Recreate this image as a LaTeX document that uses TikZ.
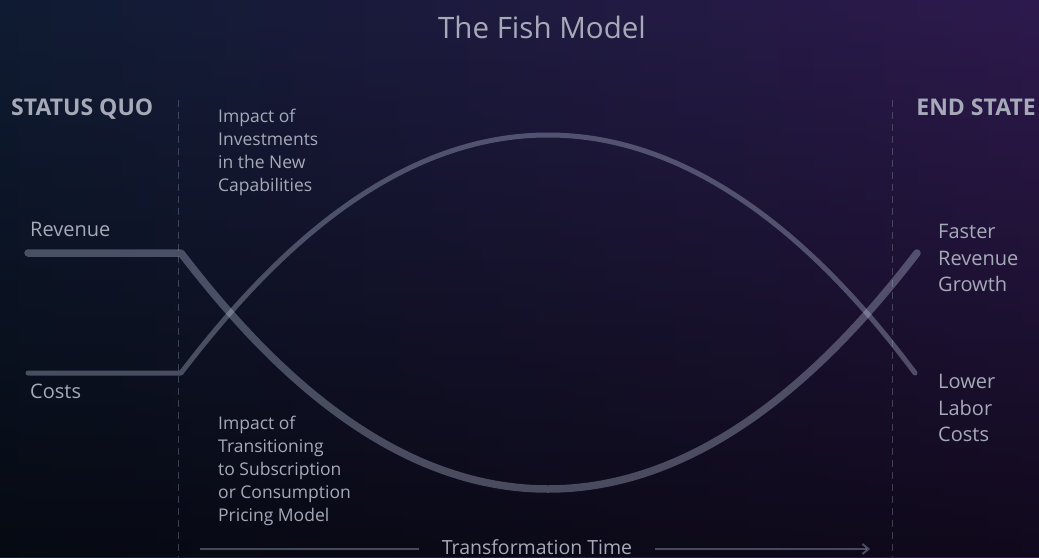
\documentclass[tikz,border=0pt]{standalone}
\usepackage{fontspec}
\setmainfont{Open Sans}
\usetikzlibrary{fadings,arrows.meta}

\definecolor{bgL}{RGB}{16,28,51}
\definecolor{bgR}{RGB}{46,26,78}
\definecolor{ink}{RGB}{166,170,184}
\definecolor{strokec}{RGB}{200,210,235}
\definecolor{guide}{RGB}{120,126,146}

\tikzfading[name=darkbottom, top color=transparent!100, bottom color=transparent!0]

\tikzset{
  lbl/.style={anchor=north west, inner sep=0pt, text=ink, align=left},
  head/.style={anchor=north west, inner sep=0pt, text=ink, font=\bfseries\fontsize{23}{27}\selectfont},
  small/.style={font=\fontsize{17.5}{23}\selectfont},
  big/.style={font=\fontsize{20}{26.7}\selectfont},
  revline/.style={draw=strokec, draw opacity=0.32, line width=7.5pt, line cap=round, line join=round},
  costline/.style={draw=strokec, draw opacity=0.32, line width=5pt, line cap=round, line join=round},
  divider/.style={draw=guide, draw opacity=0.45, line width=0.9pt, dash pattern=on 7pt off 5pt},
  timeline/.style={draw=strokec, draw opacity=0.32, line width=2pt}
}

\begin{document}
\begin{tikzpicture}[x=1pt, y=-1pt]
  % background
  \useasboundingbox (0,0) rectangle (1039,557);
  \fill[left color=bgL, right color=bgR] (0,0) rectangle (1039,557);
  \fill[black, fill opacity=0.64, path fading=darkbottom] (0,0) rectangle (1039,557);

  % title
  \node[text=ink, font=\fontsize{29.5}{33}\selectfont, anchor=base] (title) at (542,38) {The Fish Model};

  % phase headings
  \node[head] (status) at (11,99) {STATUS QUO};
  \node[head, anchor=north east] (endstate) at (1036,99) {END STATE};

  % phase dividers
  \coordinate (dl1) at (178,100);
  \coordinate (dl2) at (178,557);
  \coordinate (dr1) at (892,100);
  \coordinate (dr2) at (892,557);
  \draw[divider] (dl1) -- (dl2);
  \draw[divider] (dr1) -- (dr2);

  % curve key points
  \coordinate (r0) at (28,253);
  \coordinate (r1) at (181,253);
  \coordinate (rb) at (548,489);
  \coordinate (r2) at (917,253);
  \coordinate (c0) at (28,373);
  \coordinate (c1) at (181,373);
  \coordinate (ct) at (548,135);
  \coordinate (c2) at (915,373);

  % revenue path
  \draw[revline] (r0) -- (r1)
     .. controls (251,344) and (378,489) .. (rb)
     .. controls (718,489) and (847,344) .. (r2);

  % cost path
  \draw[costline] (c0) -- (c1)
     .. controls (251,282) and (378,135) .. (ct)
     .. controls (718,135) and (847,282) .. (c2);

  % labels
  \node[lbl, big] (revenue) at (30,222) {Revenue};
  \node[lbl, big] (costs) at (30,384) {Costs};
  \node[lbl, small] (invest) at (218,109) {Impact of\\Investments\\in the New\\Capabilities};
  \node[lbl, small] (transit) at (218,416) {Impact of\\Transitioning\\to Subscription\\or Consumption\\Pricing Model};
  \node[lbl, big] (faster) at (938,224) {Faster\\Revenue\\Growth};
  \node[lbl, big] (lower) at (938,374) {Lower\\Labor\\Costs};

  % time axis
  \node[text=ink, font=\fontsize{19.5}{23}\selectfont, anchor=base, inner xsep=23pt] (ttime) at (537,554) {Transformation Time};
  \coordinate (t0) at (200,549);
  \coordinate (t1) at (870,549);
  \draw[timeline] (t0) -- (t0 -| ttime.west);
  \draw[timeline, -{Straight Barb[length=6pt, width=10pt]}] (t1 -| ttime.east) -- (t1);
\end{tikzpicture}
\end{document}
